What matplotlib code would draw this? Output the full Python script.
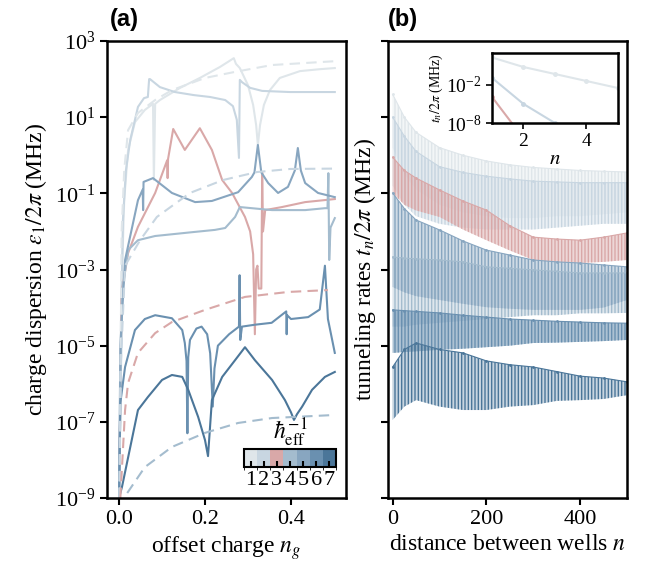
import numpy as np
import matplotlib
matplotlib.use("Agg")
from matplotlib import pyplot as plt
from matplotlib.colors import ListedColormap, BoundaryNorm, to_rgba
from matplotlib.cm import ScalarMappable
from matplotlib.ticker import NullLocator

plt.rcParams['font.family'] = ['Liberation Serif', 'DejaVu Serif']
plt.rcParams['mathtext.fontset'] = 'stix'
plt.rcParams['font.size'] = 16
plt.rcParams['axes.linewidth'] = 1.8
plt.rcParams['hatch.linewidth'] = 1.0

colours = ['#dfe6ea', '#c8d6e1', '#d9a8a8', '#a4bcce', '#88a6c0', '#6a90b0', '#4b7699']
hbar_inv = [1, 2, 3, 4, 5, 6, 7]

# ---- panel (a): charge dispersion, log10 values ----
ng_1 = [0.0, 0.005, 0.012, 0.021, 0.037, 0.060, 0.079, 0.081, 0.084, 0.095, 0.142, 0.188, 0.235, 0.267,
        0.272, 0.281, 0.300, 0.312, 0.319, 0.323, 0.328, 0.337, 0.351, 0.374, 0.421, 0.467, 0.502]
eps_1 = [-9, -3.8, -1.18, 0.14, 0.87, 1.19, 1.35, -0.65, 1.35, 1.45, 1.77, 2.03, 2.32, 2.55,
         2.40, 2.29, 1.84, 1.32, 0.79, 0.27, 0.79, 1.32, 1.71, 2.03, 2.21, 2.26, 2.29]

ng_2 = [0.0, 0.005, 0.009, 0.016, 0.026, 0.044, 0.058, 0.067, 0.070, 0.072, 0.095, 0.130, 0.174, 0.212,
        0.247, 0.265, 0.274, 0.279, 0.281, 0.286, 0.305, 0.333, 0.398, 0.502]
eps_2 = [-9, -4.3, -1.70, -0.39, 0.40, 1.27, 1.50, 1.53, 2.0, 2.0, 1.79, 1.66, 1.58, 1.53,
         1.45, 1.29, 0.93, -0.07, 1.98, 1.92, 1.77, 1.69, 1.66, 1.66]

ng_3 = [0.0, 0.006, 0.021, 0.044, 0.084, 0.112, 0.113, 0.114, 0.126, 0.153, 0.188, 0.216, 0.24, 0.263,
        0.293, 0.305, 0.312, 0.316, 0.319, 0.322, 0.325, 0.331, 0.333, 0.335, 0.34, 0.379, 0.433, 0.502]
eps_3 = [-9, -3.6, -2.57, -1.88, -0.99, -0.13, -0.6, -0.1, 0.69, 0.14, 0.71, 0.14, -0.65, -0.99,
         -1.62, -2.0, -2.6, -4.7, -3.0, -2.9, -3.5, -3.5, -0.45, -2.0, -1.44, -1.36, -1.23, -1.15]

ng_4 = [0.0, 0.007, 0.021, 0.044, 0.084, 0.170, 0.223, 0.247, 0.27, 0.281, 0.309, 0.356, 0.433, 0.479,
        0.485, 0.487, 0.489, 0.492, 0.502]
eps_4 = [-9, -3.6, -2.49, -2.23, -2.12, -2.02, -1.96, -1.91, -1.62, -1.36, -1.39, -1.44, -1.44, -1.39,
         -1.39, -0.47, -2.75, -1.9, -1.65]

ng_5 = [0.0, 0.003, 0.014, 0.044, 0.055, 0.056, 0.057, 0.079, 0.123, 0.177, 0.216, 0.277, 0.309, 0.315,
        0.323, 0.331, 0.347, 0.37, 0.393, 0.409, 0.416, 0.423, 0.433, 0.463, 0.502]
eps_5 = [-9, -5.0, -2.75, -1.18, -0.9, -1.44, -0.7, -0.6, -0.99, -1.23, -1.2, -0.97, -0.57, -0.45,
         0.27, -0.45, -0.73, -0.99, -0.83, -0.4, 0.19, -0.4, -0.73, -0.99, -1.1]

ng_6 = [0.0, 0.003, 0.014, 0.037, 0.060, 0.084, 0.123, 0.147, 0.153, 0.157, 0.159, 0.161, 0.165, 0.18,
        0.192, 0.205, 0.212, 0.218, 0.222, 0.230, 0.256, 0.279, 0.2805, 0.282, 0.286, 0.316, 0.355, 0.389,
        0.390, 0.391, 0.40, 0.44, 0.467, 0.479, 0.486, 0.502]
eps_6 = [-9, -6.5, -5.56, -4.59, -4.3, -4.2, -4.28, -4.59, -4.93, -5.4, -7.3, -5.3, -4.85, -4.55,
         -4.5, -4.7, -5.2, -6.6, -5.6, -5.0, -4.7, -4.5, -3.15, -4.85, -4.5, -4.45, -4.4, -4.1,
         -4.7, -4.2, -4.3, -4.25, -4.05, -2.9, -4.3, -5.19]

ng_7 = [0.0, 0.007, 0.044, 0.067, 0.1, 0.123, 0.147, 0.161, 0.184, 0.2, 0.207, 0.216, 0.240, 0.27,
        0.293, 0.316, 0.356, 0.386, 0.400, 0.407, 0.414, 0.426, 0.449, 0.479, 0.502]
eps_7 = [-9, -8.7, -6.69, -6.35, -5.9, -5.77, -5.82, -6.16, -6.87, -7.48, -7.9, -6.43, -5.82, -5.38,
         -5.04, -5.38, -5.9, -6.43, -6.75, -6.95, -6.8, -6.6, -6.16, -5.82, -5.69]

solid_ng = [ng_1, ng_2, ng_3, ng_4, ng_5, ng_6, ng_7]
solid_eps = [eps_1, eps_2, eps_3, eps_4, eps_5, eps_6, eps_7]

# dashed (approximate) curves for hbar^-1 = 1..4
dng_1 = [0.001, 0.006, 0.012, 0.021, 0.044, 0.084, 0.123, 0.2, 0.27, 0.356, 0.502]
deps_1 = [-9, -2.0, -0.4, 0.66, 1.11, 1.45, 1.71, 2.03, 2.19, 2.37, 2.47]
dng_2 = [0.001, 0.004, 0.014, 0.049, 0.088, 0.165, 0.242, 0.321, 0.398, 0.502]
deps_2 = [-9, -5.5, -2.9, -2.23, -1.62, -0.99, -0.65, -0.44, -0.36, -0.35]
dng_3 = [0.003, 0.014, 0.021, 0.044, 0.084, 0.123, 0.2, 0.293, 0.393, 0.486]
deps_3 = [-9, -6.69, -5.98, -5.19, -4.67, -4.38, -4.06, -3.72, -3.59, -3.54]
dng_4 = [0.012, 0.019, 0.060, 0.123, 0.2, 0.277, 0.356, 0.502]
deps_4 = [-9.3, -8.87, -8.19, -7.66, -7.29, -7.03, -6.9, -6.82]
dashed_ng = [dng_1, dng_2, dng_3, dng_4]
dashed_eps = [deps_1, deps_2, deps_3, deps_4]

# ---- panel (b): tunneling rates, log10 envelope of the oscillations ----
n_wells = [0, 25, 50, 100, 150, 200, 250, 300, 350, 400, 450, 500]
t_hi = [
    [1.6, 1.0, 0.6, 0.2, 0.0, -0.15, -0.25, -0.32, -0.36, -0.4, -0.42, -0.44],
    [1.0, 0.5, 0.1, -0.3, -0.45, -0.55, -0.62, -0.68, -0.7, -0.72, -0.72, -0.72],
    [-0.05, -0.4, -0.6, -0.91, -1.2, -1.44, -1.85, -2.15, -2.2, -2.23, -2.15, -2.04],
    [-2.67, -2.7, -2.72, -2.75, -2.8, -2.93, -2.97, -3.01, -3.05, -3.09, -3.09, -3.09],
    [-0.99, -1.4, -1.7, -1.96, -2.25, -2.49, -2.62, -2.75, -2.8, -2.83, -2.88, -2.93],
    [-4.06, -4.08, -4.1, -4.14, -4.2, -4.25, -4.3, -4.33, -4.36, -4.38, -4.4, -4.41],
    [-5.56, -5.1, -4.93, -5.1, -5.19, -5.4, -5.5, -5.56, -5.68, -5.8, -5.85, -5.95],
]
t_lo = [
    [0.2, -0.5, -0.9, -1.3, -1.5, -1.6, -1.65, -1.65, -1.6, -1.6, -1.55, -1.5],
    [-0.8, -1.3, -1.6, -1.8, -1.9, -1.95, -1.95, -1.95, -1.9, -1.85, -1.8, -1.8],
    [-0.99, -1.3, -1.45, -1.62, -1.95, -2.23, -2.5, -2.75, -2.8, -2.83, -2.8, -2.75],
    [-4.5, -4.5, -4.45, -4.4, -4.35, -4.3, -4.25, -4.2, -4.2, -4.15, -4.15, -4.14],
    [-3.46, -3.6, -3.7, -3.8, -3.9, -3.99, -4.03, -4.06, -4.06, -4.06, -4.0, -3.8],
    [-5.19, -5.17, -5.15, -5.11, -5.08, -5.04, -5.0, -4.93, -4.92, -4.9, -4.88, -4.85],
    [-6.95, -6.6, -6.43, -6.6, -6.69, -6.69, -6.6, -6.56, -6.45, -6.43, -6.4, -6.3],
]
band_alpha = [0.35, 0.35, 0.45, 0.35, 0.4, 0.55, 0.3]

# inset: first few hopping amplitudes
n_inset = [1, 2, 3, 4, 5]
t_inset = [
    [2.3, 0.8, -0.3, -1.4, -2.5],
    [-0.9, -5.0, -8.0, -11.5, -15.0],
    [-3.9, -10.4, -17.0, -23.0, -29.0],
]

fig = plt.figure(figsize=(6.49, 5.65), dpi=100)
ax_a = fig.add_axes([0.1649, 0.1186, 0.3682, 0.8088])
ax_b = fig.add_axes([0.5978, 0.1186, 0.3683, 0.8088])

for i in range(7):
    ax_a.plot(solid_ng[i], 10 ** np.array(solid_eps[i]), color=colours[i], lw=1.5)
for i in range(4):
    ax_a.plot(dashed_ng[i], 10 ** np.array(dashed_eps[i]), color=colours[i], lw=1.5,
              ls=(0, (5, 3)))

for i in range(7):
    hi = 10 ** np.array(t_hi[i])
    lo = 10 ** np.array(t_lo[i])
    ax_b.fill_between(n_wells, lo, hi, facecolor=to_rgba(colours[i], band_alpha[i]),
                      edgecolor=colours[i], hatch='|||||', lw=0)
    ax_b.plot(n_wells, hi, color=colours[i], lw=0.8, marker='.', ms=2)

for ax in (ax_a, ax_b):
    ax.set_yscale('log')
    ax.set_ylim(1e-9, 1e3)
    ax.set_yticks([10.0 ** k for k in range(-9, 4, 2)])
    ax.yaxis.set_minor_locator(NullLocator())
    ax.tick_params(length=5, width=1.5, labelsize=16)

ax_a.set_xlim(-0.028, 0.528)
ax_a.set_xticks([0.0, 0.2, 0.4])
ax_a.set_xticklabels(['0.0', '0.2', '0.4'])
ax_a.set_xlabel(r'offset charge $n_g$', fontsize=17)
ax_a.set_ylabel(r'charge dispersion $\varepsilon_1/2\pi$ (MHz)', fontsize=17)

ax_b.set_xlim(-10, 500)
ax_b.set_xticks([0, 200, 400])
ax_b.set_yticklabels([])
ax_b.set_xlabel(r'distance between wells $n$', fontsize=17)
ax_b.set_ylabel(r'tunneling rates $t_n/2\pi$ (MHz)', fontsize=17, labelpad=-1)

fig.text(0.1695, 0.965, '(a)', fontsize=17, fontweight='bold', family='Liberation Sans', va='center')
fig.text(0.598, 0.965, '(b)', fontsize=17, fontweight='bold', family='Liberation Sans', va='center')

# inset
ax_in = fig.add_axes([0.758, 0.7823, 0.194, 0.1239])
for i in range(3):
    ax_in.plot(n_inset, 10 ** np.array(t_inset[i]), color=colours[i], lw=1.5, marker='.', ms=5)
ax_in.set_yscale('log')
ax_in.set_xlim(1, 5)
ax_in.set_ylim(1e-8, 1e3)
ax_in.set_xticks([2, 4])
ax_in.set_yticks([1e-2, 1e-8])
ax_in.yaxis.set_minor_locator(NullLocator())
ax_in.tick_params(length=4, width=1.2, labelsize=14)
ax_in.set_xlabel(r'$n$', fontsize=15, labelpad=0)
ax_in.set_ylabel(r'$t_n/2\pi$ (MHz)', fontsize=10, labelpad=1)

# discrete colour bar
cax = fig.add_axes([0.376, 0.1735, 0.1418, 0.0319])
cmap = ListedColormap(colours)
norm = BoundaryNorm(np.arange(0.5, 8.5, 1), cmap.N)
cb = fig.colorbar(ScalarMappable(norm=norm, cmap=cmap), cax=cax, orientation='horizontal',
                  ticks=hbar_inv)
cb.outline.set_linewidth(1.5)
cax.tick_params(direction='in', length=4, width=1.5, labelsize=16, pad=3)
cax.set_title(r'$\hbar_{\rm eff}^{-1}$', fontsize=17, pad=2)

fig.savefig('out.png', dpi=100)
